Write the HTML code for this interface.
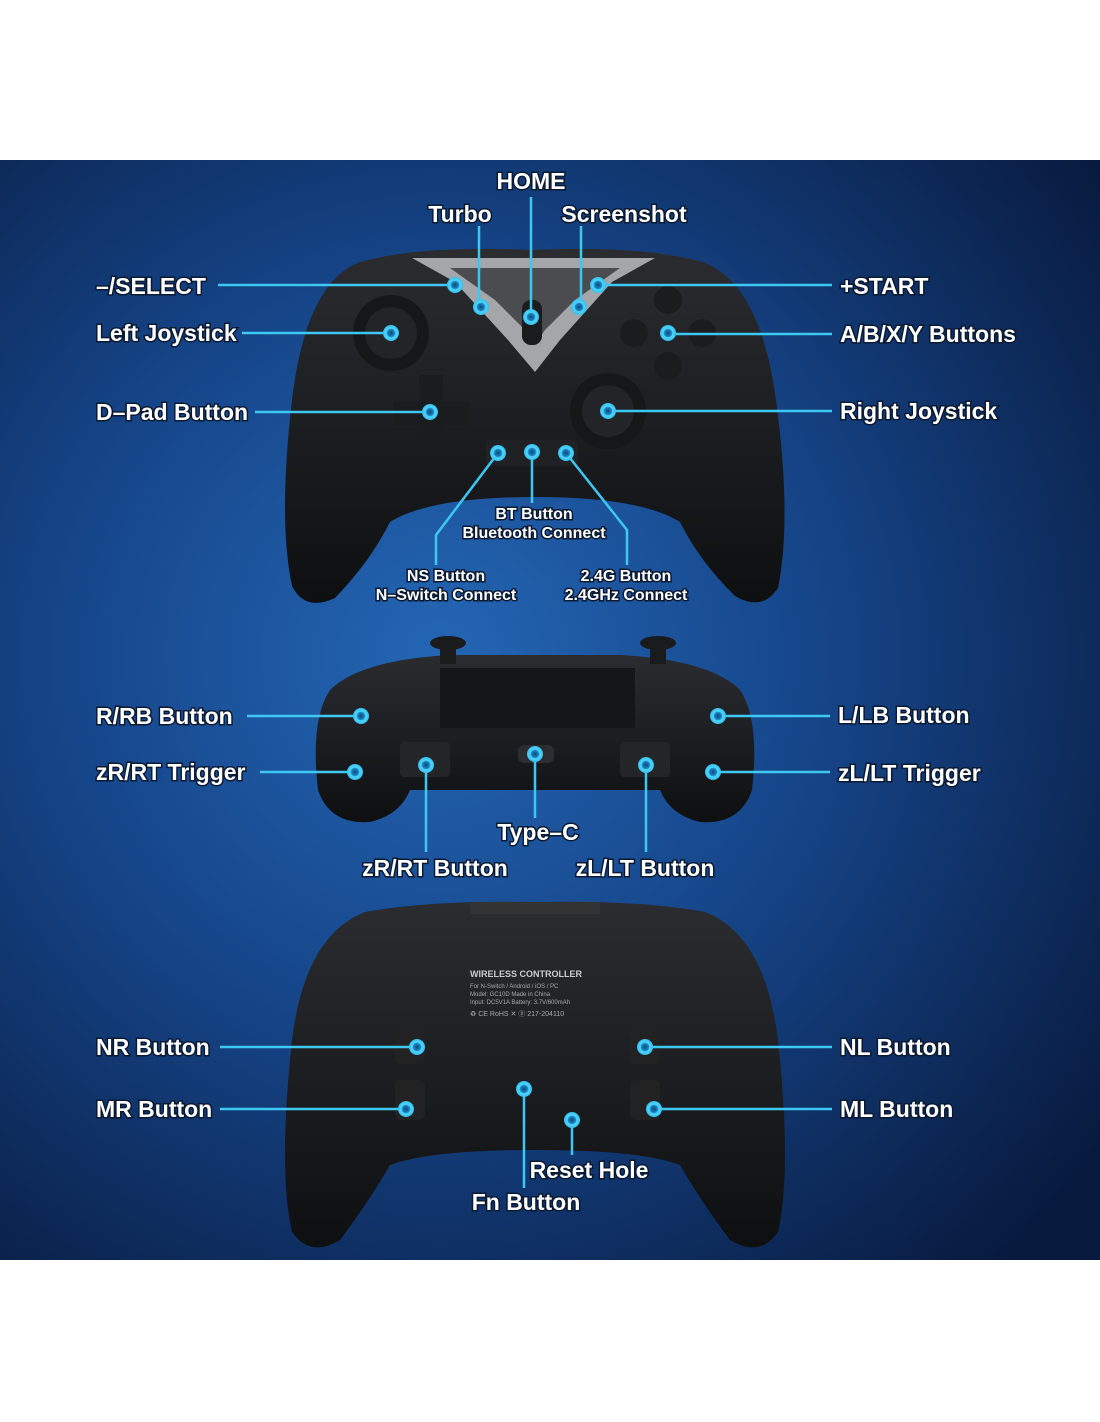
<!DOCTYPE html>
<html><head><meta charset="utf-8"><style>
html,body{margin:0;padding:0;background:#fff;}
svg{display:block}
text{font-family:"Liberation Sans",sans-serif;fill:#fff;}
.l{font-size:23px;font-weight:bold;stroke:#0b1a33;stroke-width:3px;paint-order:stroke;}
.s{font-size:16px;font-weight:bold;stroke:#0b1a33;stroke-width:3px;paint-order:stroke;}
.ln{stroke:#3cc8f2;stroke-width:2.5;fill:none;}
</style></head><body>
<svg width="1100" height="1422" viewBox="0 0 1100 1422" xmlns="http://www.w3.org/2000/svg">
<defs>
<radialGradient id="bg" cx="0.4" cy="0.45" r="0.75">
<stop offset="0" stop-color="#2466b4"/><stop offset="0.45" stop-color="#16468a"/><stop offset="1" stop-color="#081a3e"/>
</radialGradient>
<radialGradient id="dot" cx="0.5" cy="0.5" r="0.5">
<stop offset="0" stop-color="#0e4a78"/><stop offset="0.45" stop-color="#1a84c0"/><stop offset="0.6" stop-color="#4fd6ff"/><stop offset="1" stop-color="#35bfee"/>
</radialGradient>
<linearGradient id="body" x1="0" y1="0" x2="0" y2="1">
<stop offset="0" stop-color="#2a2c30"/><stop offset="1" stop-color="#0e0f11"/>
</linearGradient>
</defs>
<rect x="0" y="160" width="1100" height="1100" fill="url(#bg)"/>

<!-- Controller 1 front -->
<path d="M360,262 Q420,245 531,250 Q642,245 702,262 Q760,282 776,400 Q792,520 778,588 Q762,612 735,596 Q700,562 680,522 Q640,497 535,497 Q430,497 390,522 Q370,562 335,598 Q305,612 292,586 Q278,520 292,400 Q306,282 360,262 Z" fill="url(#body)"/>
<path d="M412,258 L655,258 L612,282 L560,340 L535,372 L508,340 L455,282 Z" fill="#a4a6aa"/>
<path d="M450,268 L620,268 L575,300 L545,330 L535,345 L525,330 L495,300 Z" fill="#4a4c50"/>
<rect x="522" y="300" width="20" height="45" rx="9" fill="#1a1b1d"/>
<circle cx="391" cy="333" r="38" fill="#161719"/><circle cx="391" cy="333" r="26" fill="#232427"/>
<circle cx="608" cy="411" r="38" fill="#161719"/><circle cx="608" cy="411" r="26" fill="#232427"/>
<path d="M419,375 h24 v26 h26 v24 h-26 v26 h-24 v-26 h-26 v-24 h26 z" fill="#1b1c1e"/>
<circle cx="668" cy="300" r="14" fill="#1b1c1e"/><circle cx="668" cy="366" r="14" fill="#1b1c1e"/>
<circle cx="634" cy="333" r="14" fill="#1b1c1e"/><circle cx="702" cy="333" r="14" fill="#1b1c1e"/>
<rect x="486" y="440" width="92" height="26" rx="4" fill="#202124"/>

<!-- Controller 2 top -->
<path d="M330,690 Q360,660 450,655 L620,655 Q710,660 740,690 Q760,720 752,790 Q740,825 700,822 Q670,815 660,790 L410,790 Q400,815 370,822 Q330,825 318,790 Q310,720 330,690 Z" fill="url(#body)"/>
<rect x="440" y="668" width="195" height="60" fill="#15161a"/>
<rect x="400" y="742" width="50" height="35" rx="4" fill="#242528"/><rect x="620" y="742" width="50" height="35" rx="4" fill="#242528"/>
<rect x="518" y="745" width="36" height="18" rx="6" fill="#2c2d30"/>
<rect x="440" y="640" width="16" height="24" fill="#1a1b1d"/><ellipse cx="448" cy="643" rx="18" ry="7" fill="#1a1b1d"/>
<rect x="650" y="640" width="16" height="24" fill="#1a1b1d"/><ellipse cx="658" cy="643" rx="18" ry="7" fill="#1a1b1d"/>

<!-- Controller 3 back -->
<path d="M365,912 Q430,900 535,902 Q640,900 705,912 Q765,935 778,1040 Q792,1170 778,1232 Q760,1258 730,1240 Q700,1200 680,1165 Q640,1150 535,1150 Q430,1150 390,1165 Q370,1200 340,1240 Q310,1258 292,1232 Q278,1170 292,1040 Q305,935 365,912 Z" fill="url(#body)"/>
<rect x="470" y="902" width="130" height="12" fill="#333"/>
<text x="470" y="977" style="font-size:9px;font-weight:bold;fill:#ccc">WIRELESS CONTROLLER</text>
<text x="470" y="988" style="font-size:6px;fill:#aaa">For N-Switch / Android / iOS / PC</text>
<text x="470" y="996" style="font-size:6px;fill:#aaa">Model: GC10D    Made in China</text>
<text x="470" y="1004" style="font-size:6px;fill:#aaa">Input: DC5V1A  Battery: 3.7V/600mAh</text>
<text x="470" y="1016" style="font-size:7px;fill:#aaa">♻ CE RoHS ✕ ⓟ 217-204110</text>
<rect x="395" y="1030" width="30" height="34" rx="6" fill="#222"/><rect x="630" y="1030" width="30" height="34" rx="6" fill="#222"/>
<rect x="395" y="1080" width="30" height="40" rx="6" fill="#222"/><rect x="630" y="1080" width="30" height="40" rx="6" fill="#222"/>

<!-- connectors -->
<g class="ln">
<path d="M531,197 V317"/><path d="M479,226 V307"/><path d="M581,226 V307"/>
<path d="M218,285 H455"/><path d="M598,285 H832"/>
<path d="M242,333 H391"/><path d="M668,334 H832"/>
<path d="M255,412 H430"/><path d="M608,411 H832"/>
<path d="M532,452 V503"/><path d="M498,453 L436,535 V565"/><path d="M566,453 L627,530 V565"/>
<path d="M247,716 H361"/><path d="M718,716 H830"/>
<path d="M260,772 H355"/><path d="M713,772 H830"/>
<path d="M426,765 V852"/><path d="M646,765 V852"/><path d="M535,754 V818"/>
<path d="M220,1047 H417"/><path d="M645,1047 H832"/>
<path d="M220,1109 H406"/><path d="M654,1109 H832"/>
<path d="M524,1089 V1188"/><path d="M572,1120 V1155"/>
</g>
<g fill="url(#dot)">
<circle cx="531" cy="317" r="8"/><circle cx="481" cy="307" r="8"/><circle cx="579" cy="307" r="8"/>
<circle cx="455" cy="285" r="8"/><circle cx="598" cy="285" r="8"/>
<circle cx="391" cy="333" r="8"/><circle cx="668" cy="333" r="8"/>
<circle cx="430" cy="412" r="8"/><circle cx="608" cy="411" r="8"/>
<circle cx="498" cy="453" r="8"/><circle cx="532" cy="452" r="8"/><circle cx="566" cy="453" r="8"/>
<circle cx="361" cy="716" r="8"/><circle cx="718" cy="716" r="8"/>
<circle cx="355" cy="772" r="8"/><circle cx="713" cy="772" r="8"/>
<circle cx="426" cy="765" r="8"/><circle cx="646" cy="765" r="8"/><circle cx="535" cy="754" r="8"/>
<circle cx="417" cy="1047" r="8"/><circle cx="645" cy="1047" r="8"/>
<circle cx="406" cy="1109" r="8"/><circle cx="654" cy="1109" r="8"/>
<circle cx="524" cy="1089" r="8"/><circle cx="572" cy="1120" r="8"/>
</g>

<!-- labels -->
<text class="l" x="531" y="189" text-anchor="middle">HOME</text>
<text class="l" x="460" y="222" text-anchor="middle">Turbo</text>
<text class="l" x="624" y="222" text-anchor="middle">Screenshot</text>
<text class="l" x="96" y="294">–/SELECT</text>
<text class="l" x="840" y="294">+START</text>
<text class="l" x="96" y="341">Left Joystick</text>
<text class="l" x="840" y="342">A/B/X/Y Buttons</text>
<text class="l" x="96" y="420">D–Pad Button</text>
<text class="l" x="840" y="419">Right Joystick</text>
<text class="s" x="534" y="519" text-anchor="middle">BT Button</text>
<text class="s" x="534" y="538" text-anchor="middle">Bluetooth Connect</text>
<text class="s" x="446" y="581" text-anchor="middle">NS Button</text>
<text class="s" x="446" y="600" text-anchor="middle">N–Switch Connect</text>
<text class="s" x="626" y="581" text-anchor="middle">2.4G Button</text>
<text class="s" x="626" y="600" text-anchor="middle">2.4GHz Connect</text>
<text class="l" x="96" y="724">R/RB Button</text>
<text class="l" x="838" y="723">L/LB Button</text>
<text class="l" x="96" y="780">zR/RT Trigger</text>
<text class="l" x="838" y="781">zL/LT Trigger</text>
<text class="l" x="538" y="840" text-anchor="middle">Type–C</text>
<text class="l" x="435" y="876" text-anchor="middle">zR/RT Button</text>
<text class="l" x="645" y="876" text-anchor="middle">zL/LT Button</text>
<text class="l" x="96" y="1055">NR Button</text>
<text class="l" x="840" y="1055">NL Button</text>
<text class="l" x="96" y="1117">MR Button</text>
<text class="l" x="840" y="1117">ML Button</text>
<text class="l" x="589" y="1178" text-anchor="middle">Reset Hole</text>
<text class="l" x="526" y="1210" text-anchor="middle">Fn Button</text>
</svg>
</body></html>
